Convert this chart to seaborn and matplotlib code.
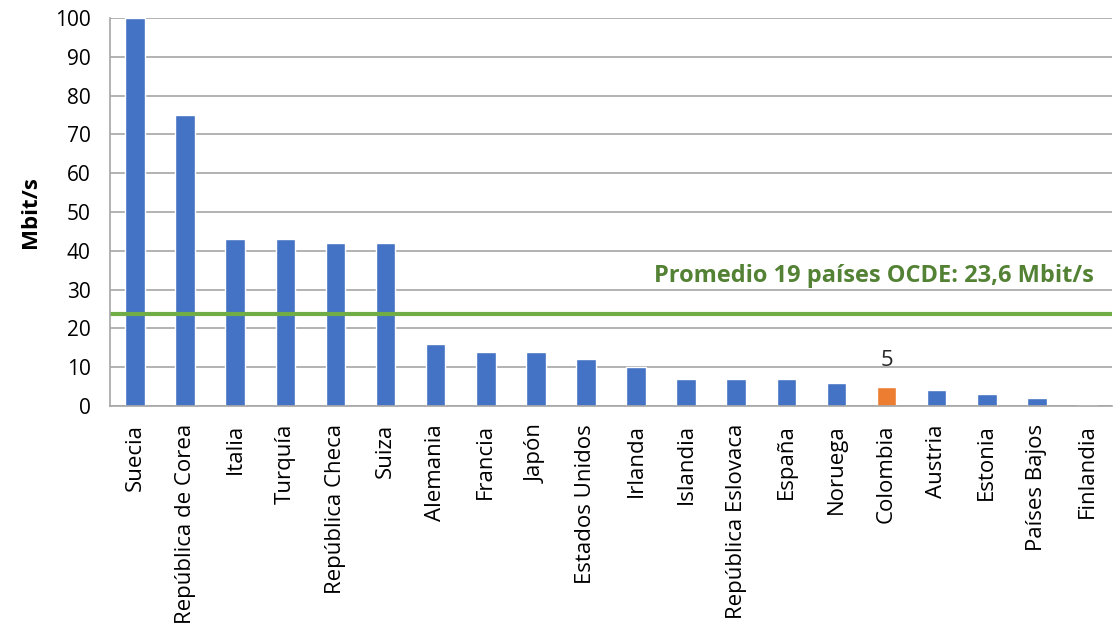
import matplotlib
matplotlib.use("Agg")
import matplotlib.pyplot as plt
import seaborn as sns
import pandas as pd

sns.set_theme(style="white")
plt.rcParams['font.family'] = ['Open Sans', 'DejaVu Sans']

# Data
paises = ["Suecia", "República de Corea", "Italia", "Turquía", "República Checa",
          "Suiza", "Alemania", "Francia", "Japón", "Estados Unidos", "Irlanda",
          "Islandia", "República Eslovaca", "España", "Noruega", "Colombia",
          "Austria", "Estonia", "Países Bajos", "Finlandia"]
velocidad = [100, 75, 43, 43, 42, 42, 16, 14, 14, 12, 10, 7, 7, 7, 6, 5, 4, 3, 2, 0.3]
promedio_ocde = 23.6
destacado = "Colombia"

df = pd.DataFrame({"pais": paises, "mbit": velocidad})
colores = ["#ED7D31" if p == destacado else "#4472C4" for p in paises]

fig = plt.figure(figsize=(11.14, 6.33), dpi=100)
ax = fig.add_axes([110 / 1114, 1 - 406 / 633, 1002 / 1114, 388 / 633])

sns.barplot(data=df, x="pais", y="mbit", hue="pais", palette=colores,
            width=0.39, legend=False, ax=ax, saturation=1)

ax.set_ylim(0, 100)
ax.set_xlim(-0.5, len(paises) - 0.5)
ax.set_yticks(range(0, 101, 10))
ax.yaxis.grid(True, color="#A6A6A6", linewidth=1.2)
ax.set_axisbelow(True)

for s in ["top", "right"]:
    ax.spines[s].set_visible(False)
for s in ["left", "bottom"]:
    ax.spines[s].set_color("#A6A6A6")
    ax.spines[s].set_linewidth(1.2)

ax.tick_params(axis="y", which="major", length=8, color="#A6A6A6", width=1.2,
               labelsize=15, pad=6, labelcolor="black")
ax.tick_params(axis="x", which="major", length=0, labelsize=16, rotation=90, pad=13,
               labelcolor="black")
ax.set_xticks([i - 0.5 for i in range(len(paises) + 1)], minor=True)
ax.tick_params(axis="x", which="minor", length=8, color="#A6A6A6", width=1.2)

ax.set_xlabel("")
ax.set_ylabel("Mbit/s", fontsize=16, fontweight="bold", labelpad=10, color="black")

# Average line
ax.axhline(promedio_ocde, color="#70AD47", linewidth=3)
ax.text(len(paises) - 0.87, 30.4, f"Promedio 19 países OCDE: {str(promedio_ocde).replace('.', ',')} Mbit/s",
        color="#548235", fontsize=17, fontweight="bold", ha="right", va="bottom")

# Label for highlighted bar
idx = paises.index(destacado)
ax.text(idx, velocidad[idx] + 4, f"{velocidad[idx]:g}", ha="center", va="bottom", fontsize=16)

fig.savefig("out.png", dpi=100)
